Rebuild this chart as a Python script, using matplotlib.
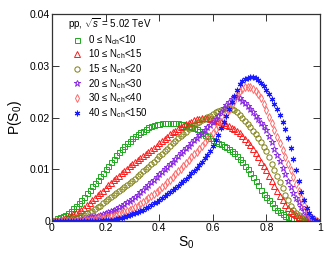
import numpy as np
import matplotlib
matplotlib.use('Agg')
import matplotlib.pyplot as plt

plt.rcParams['font.family'] = ['Liberation Sans', 'DejaVu Sans']
plt.rcParams['mathtext.fontset'] = 'custom'
plt.rcParams['mathtext.rm'] = 'Liberation Sans'
plt.rcParams['mathtext.it'] = 'Liberation Sans:italic'

# spherocity bins S0 = 0.00 ... 0.99
s0 = np.arange(100) / 100.0

p_0_10 = [0.0002, 0.0003, 0.0005, 0.0007, 0.0009, 0.0012, 0.0016, 0.0020, 0.0025, 0.0030,
          0.0035, 0.0041, 0.0047, 0.0054, 0.0060, 0.0067, 0.0074, 0.0080, 0.0087, 0.0093,
          0.0100, 0.0107, 0.0114, 0.0120, 0.0127, 0.0133, 0.0139, 0.0145, 0.0150, 0.0155,
          0.0160, 0.0164, 0.0168, 0.0172, 0.0175, 0.0178, 0.0181, 0.0183, 0.0185, 0.0187,
          0.0188, 0.0189, 0.0190, 0.0190, 0.0190, 0.0190, 0.0190, 0.0189, 0.0188, 0.0187,
          0.0186, 0.0184, 0.0182, 0.0179, 0.0177, 0.0174, 0.0171, 0.0167, 0.0164, 0.0160,
          0.0157, 0.0154, 0.0151, 0.0148, 0.0146, 0.0143, 0.0140, 0.0136, 0.0131, 0.0126,
          0.0120, 0.0114, 0.0107, 0.0100, 0.0092, 0.0085, 0.0077, 0.0069, 0.0061, 0.0053,
          0.0046, 0.0040, 0.0034, 0.0028, 0.0022, 0.0017, 0.0013, 0.0010, 0.0008, 0.0006,
          0.0004, 0.0003, 0.0002, 0.0002, 0.0001, 0.0001, 0.0000, 0.0000, 0.0000, 0.0000]

p_10_15 = [0.0001, 0.0001, 0.0002, 0.0003, 0.0004, 0.0006, 0.0008, 0.0010, 0.0013, 0.0015,
           0.0018, 0.0022, 0.0026, 0.0031, 0.0035, 0.0040, 0.0045, 0.0050, 0.0054, 0.0059,
           0.0064, 0.0069, 0.0074, 0.0079, 0.0083, 0.0088, 0.0092, 0.0097, 0.0101, 0.0106,
           0.0110, 0.0114, 0.0118, 0.0122, 0.0126, 0.0130, 0.0134, 0.0138, 0.0142, 0.0146,
           0.0150, 0.0155, 0.0159, 0.0163, 0.0168, 0.0172, 0.0175, 0.0178, 0.0181, 0.0184,
           0.0187, 0.0190, 0.0192, 0.0195, 0.0197, 0.0198, 0.0199, 0.0199, 0.0199, 0.0198,
           0.0197, 0.0195, 0.0193, 0.0191, 0.0189, 0.0186, 0.0183, 0.0180, 0.0177, 0.0174,
           0.0170, 0.0165, 0.0159, 0.0153, 0.0147, 0.0140, 0.0132, 0.0124, 0.0115, 0.0107,
           0.0098, 0.0088, 0.0078, 0.0068, 0.0058, 0.0048, 0.0040, 0.0032, 0.0025, 0.0019,
           0.0015, 0.0011, 0.0008, 0.0006, 0.0004, 0.0002, 0.0001, 0.0001, 0.0000, 0.0000]

p_15_20 = [0.0000, 0.0000, 0.0000, 0.0001, 0.0001, 0.0002, 0.0003, 0.0004, 0.0005, 0.0006,
           0.0008, 0.0010, 0.0012, 0.0015, 0.0017, 0.0020, 0.0023, 0.0027, 0.0030, 0.0034,
           0.0038, 0.0042, 0.0046, 0.0050, 0.0054, 0.0058, 0.0062, 0.0066, 0.0070, 0.0074,
           0.0078, 0.0082, 0.0087, 0.0091, 0.0096, 0.0100, 0.0105, 0.0110, 0.0115, 0.0120,
           0.0125, 0.0130, 0.0135, 0.0140, 0.0145, 0.0150, 0.0155, 0.0160, 0.0164, 0.0169,
           0.0173, 0.0177, 0.0181, 0.0185, 0.0189, 0.0192, 0.0195, 0.0198, 0.0201, 0.0204,
           0.0207, 0.0210, 0.0213, 0.0215, 0.0217, 0.0218, 0.0218, 0.0217, 0.0214, 0.0210,
           0.0205, 0.0200, 0.0194, 0.0188, 0.0182, 0.0175, 0.0168, 0.0160, 0.0152, 0.0144,
           0.0135, 0.0123, 0.0111, 0.0099, 0.0087, 0.0075, 0.0063, 0.0051, 0.0040, 0.0030,
           0.0022, 0.0016, 0.0011, 0.0007, 0.0005, 0.0003, 0.0002, 0.0001, 0.0000, 0.0000]

p_20_30 = [0.0000, 0.0000, 0.0000, 0.0000, 0.0000, 0.0001, 0.0001, 0.0001, 0.0002, 0.0002,
           0.0003, 0.0004, 0.0005, 0.0006, 0.0007, 0.0008, 0.0009, 0.0010, 0.0012, 0.0013,
           0.0015, 0.0017, 0.0019, 0.0022, 0.0024, 0.0027, 0.0030, 0.0033, 0.0036, 0.0039,
           0.0043, 0.0047, 0.0051, 0.0056, 0.0060, 0.0065, 0.0070, 0.0075, 0.0080, 0.0085,
           0.0090, 0.0095, 0.0100, 0.0105, 0.0110, 0.0115, 0.0120, 0.0126, 0.0131, 0.0136,
           0.0141, 0.0146, 0.0151, 0.0156, 0.0161, 0.0166, 0.0171, 0.0176, 0.0181, 0.0186,
           0.0191, 0.0197, 0.0204, 0.0211, 0.0218, 0.0225, 0.0231, 0.0236, 0.0239, 0.0239,
           0.0237, 0.0233, 0.0228, 0.0223, 0.0217, 0.0211, 0.0204, 0.0197, 0.0190, 0.0183,
           0.0176, 0.0165, 0.0153, 0.0140, 0.0128, 0.0116, 0.0103, 0.0090, 0.0077, 0.0065,
           0.0055, 0.0045, 0.0036, 0.0027, 0.0019, 0.0012, 0.0007, 0.0003, 0.0001, 0.0000]

p_30_40 = [0.0000, 0.0000, 0.0000, 0.0000, 0.0000, 0.0000, 0.0000, 0.0000, 0.0001, 0.0001,
           0.0001, 0.0001, 0.0002, 0.0002, 0.0003, 0.0003, 0.0004, 0.0005, 0.0005, 0.0006,
           0.0007, 0.0008, 0.0009, 0.0010, 0.0012, 0.0013, 0.0015, 0.0017, 0.0019, 0.0021,
           0.0024, 0.0027, 0.0030, 0.0033, 0.0036, 0.0040, 0.0044, 0.0048, 0.0052, 0.0056,
           0.0060, 0.0065, 0.0070, 0.0075, 0.0080, 0.0085, 0.0090, 0.0096, 0.0101, 0.0107,
           0.0112, 0.0118, 0.0123, 0.0129, 0.0134, 0.0140, 0.0146, 0.0152, 0.0158, 0.0164,
           0.0170, 0.0177, 0.0184, 0.0191, 0.0198, 0.0206, 0.0215, 0.0224, 0.0233, 0.0243,
           0.0251, 0.0256, 0.0259, 0.0260, 0.0259, 0.0256, 0.0251, 0.0245, 0.0237, 0.0226,
           0.0214, 0.0202, 0.0189, 0.0176, 0.0163, 0.0150, 0.0137, 0.0124, 0.0111, 0.0098,
           0.0085, 0.0072, 0.0058, 0.0045, 0.0032, 0.0020, 0.0011, 0.0005, 0.0002, 0.0000]

p_40_150 = [0.0000, 0.0000, 0.0000, 0.0000, 0.0000, 0.0000, 0.0000, 0.0000, 0.0000, 0.0000,
            0.0000, 0.0000, 0.0000, 0.0000, 0.0001, 0.0001, 0.0001, 0.0001, 0.0001, 0.0002,
            0.0002, 0.0002, 0.0003, 0.0003, 0.0004, 0.0005, 0.0006, 0.0008, 0.0009, 0.0011,
            0.0013, 0.0015, 0.0017, 0.0019, 0.0022, 0.0025, 0.0028, 0.0031, 0.0034, 0.0037,
            0.0040, 0.0044, 0.0048, 0.0052, 0.0056, 0.0060, 0.0064, 0.0068, 0.0073, 0.0077,
            0.0082, 0.0087, 0.0092, 0.0097, 0.0102, 0.0108, 0.0114, 0.0121, 0.0128, 0.0136,
            0.0145, 0.0156, 0.0167, 0.0179, 0.0191, 0.0204, 0.0217, 0.0230, 0.0242, 0.0254,
            0.0264, 0.0270, 0.0274, 0.0277, 0.0278, 0.0278, 0.0276, 0.0272, 0.0267, 0.0261,
            0.0254, 0.0245, 0.0236, 0.0227, 0.0217, 0.0205, 0.0192, 0.0177, 0.0160, 0.0142,
            0.0120, 0.0098, 0.0077, 0.0057, 0.0040, 0.0026, 0.0015, 0.0008, 0.0003, 0.0001]

labels = [r'0 ≤ N$_{\rm ch}$<10', r'10 ≤ N$_{\rm ch}$<15', r'15 ≤ N$_{\rm ch}$<20',
          r'20 ≤ N$_{\rm ch}$<30', r'30 ≤ N$_{\rm ch}$<40', r'40 ≤ N$_{\rm ch}$<150']
series = [p_0_10, p_10_15, p_15_20, p_20_30, p_30_40, p_40_150]
colors = ['#1faa1f', '#ff1a1a', '#7f7f10', '#8a2be2', '#ff6a6a', '#1a1aff']
markers = ['s', '^', 'o', '*', 'd', (6, 2, 0)]
msizes = [3.6, 3.8, 3.8, 4.6, 3.6, 4.0]

fig = plt.figure(figsize=(3.31, 2.61), dpi=100)
ax = fig.add_axes([0.157, 0.153, 0.810, 0.793])

for y, c, m, ms, lab in zip(series, colors, markers, msizes, labels):
    if m == (6, 2, 0):
        ax.plot(s0, y, ls='none', marker=m, ms=ms, color=c, mew=0.8, label=lab)
    else:
        ax.plot(s0, y, ls='none', marker=m, ms=ms, mfc='none', mec=c, mew=0.7, label=lab)

ax.set_xlim(0, 1)
ax.set_ylim(0, 0.04)
ax.set_xticks([0, 0.2, 0.4, 0.6, 0.8, 1])
ax.set_xticklabels(['0', '0.2', '0.4', '0.6', '0.8', '1'])
ax.set_yticks([0, 0.01, 0.02, 0.03, 0.04])
ax.set_yticklabels(['0', '0.01', '0.02', '0.03', '0.04'])
ax.tick_params(direction='in', top=True, right=True, length=5, width=0.7,
               labelsize=7.5, pad=1.5, colors='#333333', labelcolor='black')
for sp in ax.spines.values():
    sp.set_linewidth(0.9)
    sp.set_color('#333333')

ax.set_xlabel(r'S$_0$', fontsize=10, labelpad=1)
ax.set_ylabel(r'P(S$_0$)', fontsize=10, labelpad=4)

leg = ax.legend(loc='upper left', bbox_to_anchor=(0.056, 0.992), borderaxespad=0,
                borderpad=0.1, frameon=False, fontsize=7,
                title=r'pp, $\sqrt{s}$ = 5.02 TeV', title_fontsize=7,
                alignment='left', handlelength=1.85, handletextpad=0.2,
                labelspacing=0.08, markerscale=1.0)

fig.savefig('out.png', dpi=100)
